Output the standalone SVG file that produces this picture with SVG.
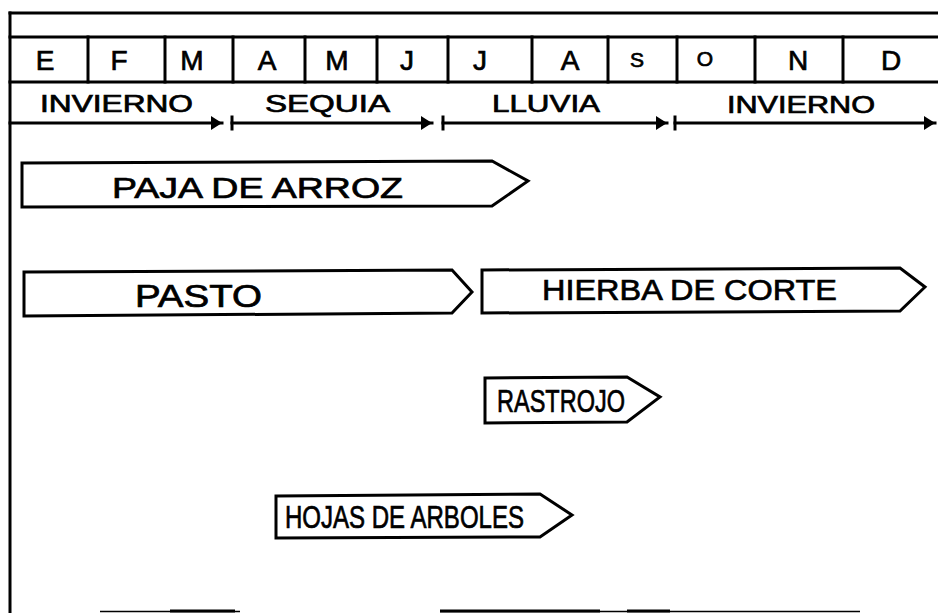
<svg xmlns="http://www.w3.org/2000/svg" width="938" height="613" viewBox="0 0 938 613">
<style>
.ln{stroke:#000;stroke-width:3;fill:none;stroke-linecap:square}
.box{stroke:#000;stroke-width:3;fill:#fff;stroke-linejoin:miter}
.t{font-family:"Liberation Sans",Arial,sans-serif;font-weight:normal;fill:#000;stroke:#000;stroke-width:0.7}
.m{font-size:28px;text-anchor:middle}
.s{font-size:23px}
.lab{font-size:30px}
</style>
<defs>
<marker id="ah" markerWidth="12" markerHeight="14" refX="11" refY="7" orient="auto" markerUnits="userSpaceOnUse">
<path d="M0,0 L11,7 L0,14 Z" fill="#000"/>
</marker>
</defs>
<rect width="938" height="613" fill="#fff"/>
<g id="frame">
<line class="ln" x1="10" y1="13" x2="10" y2="612"/>
<line class="ln" x1="10" y1="13" x2="938" y2="13"/>
<line class="ln" x1="10" y1="37" x2="938" y2="37"/>
<line class="ln" x1="10" y1="82" x2="938" y2="82"/>
<line class="ln" x1="88" y1="37" x2="88" y2="82"/>
<line class="ln" x1="165" y1="37" x2="165" y2="82"/>
<line class="ln" x1="233" y1="37" x2="233" y2="82"/>
<line class="ln" x1="305" y1="37" x2="305" y2="82"/>
<line class="ln" x1="377" y1="37" x2="377" y2="82"/>
<line class="ln" x1="448" y1="37" x2="448" y2="82"/>
<line class="ln" x1="532" y1="37" x2="532" y2="82"/>
<line class="ln" x1="608" y1="37" x2="608" y2="82"/>
<line class="ln" x1="677" y1="37" x2="677" y2="82"/>
<line class="ln" x1="755" y1="37" x2="755" y2="82"/>
<line class="ln" x1="843" y1="37" x2="843" y2="82"/>
<line x1="100" y1="611.5" x2="240" y2="611.5" stroke="#000" stroke-width="1.5"/>
<line x1="170" y1="611" x2="235" y2="611" stroke="#000" stroke-width="3"/>
<line x1="440" y1="611.5" x2="860" y2="611.5" stroke="#000" stroke-width="1.5"/>
<line x1="440" y1="611" x2="600" y2="611" stroke="#000" stroke-width="3"/>
<line x1="627" y1="611" x2="670" y2="611" stroke="#000" stroke-width="3"/>
</g>
<g id="months">
<text class="t m" x="45" y="70">E</text>
<text class="t m" x="119" y="70">F</text>
<text class="t m" x="192" y="70">M</text>
<text class="t m" x="267" y="70">A</text>
<text class="t m" x="337" y="70">M</text>
<text class="t m" x="407" y="70">J</text>
<text class="t m" x="480" y="70">J</text>
<text class="t m" x="570" y="70">A</text>
<text class="t m" x="637" y="67" style="font-size:21px">S</text>
<text class="t m" x="705" y="66" style="font-size:21px">O</text>
<text class="t m" x="798" y="70">N</text>
<text class="t m" x="891" y="70">D</text>
</g>
<g id="connectors">
<line class="ln" x1="10" y1="123" x2="222" y2="123" marker-end="url(#ah)" stroke-linecap="butt"/>
<line class="ln" x1="232" y1="117" x2="232" y2="129"/>
<line class="ln" x1="232" y1="123" x2="432" y2="123" marker-end="url(#ah)" stroke-linecap="butt"/>
<line class="ln" x1="443" y1="117" x2="443" y2="129"/>
<line class="ln" x1="443" y1="123" x2="667" y2="123" marker-end="url(#ah)" stroke-linecap="butt"/>
<line class="ln" x1="675" y1="117" x2="675" y2="129"/>
<line class="ln" x1="675" y1="123" x2="935" y2="123" marker-end="url(#ah)" stroke-linecap="butt"/>
</g>
<g id="seasons">
<text class="t s" x="40" y="112" textLength="153" lengthAdjust="spacingAndGlyphs">INVIERNO</text>
<text class="t s" x="265" y="112" textLength="125" lengthAdjust="spacingAndGlyphs">SEQUIA</text>
<text class="t s" x="492" y="112" textLength="108" lengthAdjust="spacingAndGlyphs">LLUVIA</text>
<text class="t s" x="727" y="113" textLength="148" lengthAdjust="spacingAndGlyphs">INVIERNO</text>
</g>
<g id="paja">
<path class="box" d="M22,163 L492,161 L528,181 L492,206 L22,207 Z"/>
<text class="t" style="font-size:29px" x="112" y="198" textLength="291" lengthAdjust="spacingAndGlyphs">PAJA DE ARROZ</text>
</g>
<g id="pasto">
<path class="box" d="M24,272 L452,270 L472,292 L452,313 L24,316 Z"/>
<text class="t" style="font-size:31px" x="135" y="307" textLength="127" lengthAdjust="spacingAndGlyphs">PASTO</text>
</g>
<g id="hierba">
<path class="box" d="M482,270 L900,268 L925,287 L900,311 L482,313 Z"/>
<text class="t lab" x="542" y="300" textLength="295" lengthAdjust="spacingAndGlyphs">HIERBA DE CORTE</text>
</g>
<g id="rastrojo">
<path class="box" d="M485,378 L627,377 L660,397 L627,422 L485,423 Z"/>
<text class="t" style="font-size:32px" x="497" y="412" textLength="128" lengthAdjust="spacingAndGlyphs">RASTROJO</text>
</g>
<g id="hojas">
<path class="box" d="M276,496 L540,494 L572,515 L540,537 L276,538 Z"/>
<text class="t" style="font-size:31px" x="285" y="528" textLength="239" lengthAdjust="spacingAndGlyphs">HOJAS DE ARBOLES</text>
</g>
</svg>
